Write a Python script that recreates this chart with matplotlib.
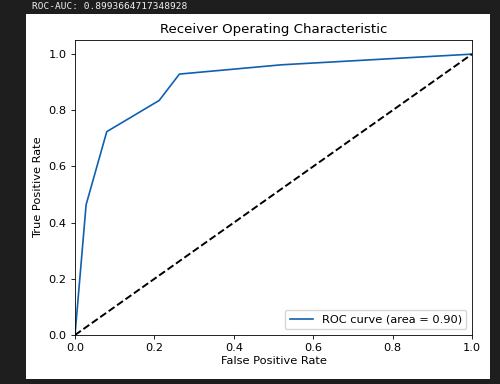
import matplotlib
matplotlib.use("Agg")
import matplotlib.pyplot as plt
from matplotlib.patches import Rectangle

# ROC points
fpr = [0.0, 0.028, 0.080, 0.212, 0.263, 0.520, 1.0]
tpr = [0.0, 0.464, 0.724, 0.835, 0.929, 0.962, 1.0]
roc_auc = 0.8993664717348928

fig = plt.figure(figsize=(5.0, 3.84), dpi=100, facecolor='#1e1e1e')

# white figure panel on the dark screen
fig.add_artist(Rectangle((0.052, 0.013), 0.928, 0.9505, transform=fig.transFigure,
                         facecolor='white', edgecolor='none', zorder=-1))
fig.text(0.064, 0.982, f"ROC-AUC: {roc_auc}", family='DejaVu Sans Mono',
         fontsize=6.8, color='#f0f0f0', va='center', ha='left')

ax = fig.add_axes([0.15, 0.1276, 0.794, 0.768])
ax.set_zorder(1)
ax.plot(fpr, tpr, color='#1060b0', lw=1.2, label=f'ROC curve (area = {roc_auc:.2f})')
ax.plot([0, 1], [0, 1], 'k--', lw=1.4)
ax.set_xlim(0.0, 1.0)
ax.set_ylim(0.0, 1.05)
ax.set_xlabel('False Positive Rate', fontsize=8.2, labelpad=2)
ax.set_ylabel('True Positive Rate', fontsize=8.2)
ax.set_title('Receiver Operating Characteristic', fontsize=9.6, pad=5)
ax.tick_params(labelsize=8.2, length=2.6, width=0.6)
for s in ax.spines.values():
    s.set_linewidth(0.6)
ax.legend(loc='lower right', fontsize=8.2)

plt.savefig('out.png', dpi=100, facecolor=fig.get_facecolor())
